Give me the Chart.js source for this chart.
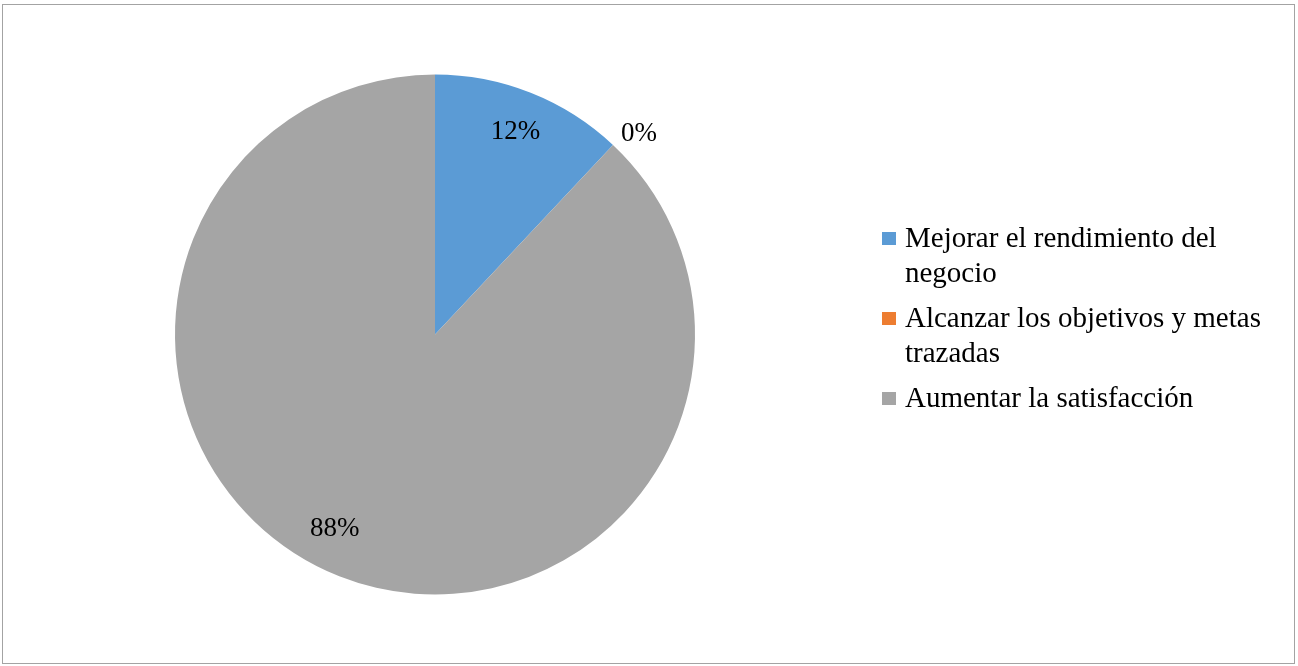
<!DOCTYPE html>
<html>
<head>
<meta charset="utf-8">
<script src="https://cdn.jsdelivr.net/npm/chart.js@4.4.1/dist/chart.umd.min.js"></script>
<style>
  html, body { margin: 0; padding: 0; background: #ffffff; }
  #wrap { position: relative; width: 1298px; height: 666px; overflow: hidden; }
  #frame { position: absolute; left: 2px; top: 4px; width: 1293px; height: 660px;
           border: 1px solid #a3a3a3; box-sizing: border-box; pointer-events: none; }
  canvas#pie { position: absolute; left: 0; top: 0; }
  #legend { position: absolute; left: 882px; top: 220px; width: 408px;
            font-family: "Liberation Serif", "Times New Roman", serif; font-size: 29px;
            line-height: 35px; color: #000; }
  #legend .item { position: relative; padding-left: 23px; margin-bottom: 10px; }
  #legend .sw { position: absolute; left: 0; top: 12px; width: 14px; height: 13px; }
</style>
</head>
<body>
<div id="wrap">
  <canvas id="pie" width="1298" height="666"></canvas>
  <div id="legend"></div>
  <div id="frame"></div>
</div>
<script>
// Survey answers: share of responses per option (percent)
const categories = [
  "Mejorar el rendimiento del negocio",
  "Alcanzar los objetivos y metas trazadas",
  "Aumentar la satisfacción"
];
const shares = [12, 0, 88];
const sliceColors = ["#5B9BD5", "#ED7D31", "#A5A5A5"];

// Percentage labels drawn on / next to each slice
const pctLabels = {
  id: "pctLabels",
  afterDatasetsDraw(chart, args, opts) {
    const ctx = chart.ctx;
    const meta = chart.getDatasetMeta(0);
    ctx.save();
    ctx.font = opts.font;
    ctx.fillStyle = "#000";
    ctx.textAlign = "center";
    ctx.textBaseline = "middle";
    meta.data.forEach((arc, i) => {
      const v = chart.data.datasets[0].data[i];
      const mid = (arc.startAngle + arc.endAngle) / 2 + (opts.angleShift[i] || 0);
      const r = arc.outerRadius * (v === 0 ? opts.outsideFactor : opts.insideFactor);
      const x = arc.x + Math.cos(mid) * r;
      const y = arc.y + Math.sin(mid) * r;
      ctx.fillText(v + "%", x, y);
    });
    ctx.restore();
  }
};

new Chart(document.getElementById("pie"), {
  type: "pie",
  data: {
    labels: categories,
    datasets: [{
      data: shares,
      backgroundColor: sliceColors,
      borderWidth: 0
    }]
  },
  options: {
    responsive: false,
    animation: false,
    layout: { padding: { left: 175, right: 603, top: 74, bottom: 71 } },
    plugins: {
      legend: { display: false },
      tooltip: { enabled: false },
      pctLabels: {
        font: '27px "Liberation Serif", "Times New Roman", serif',
        insideFactor: 0.84,
        outsideFactor: 1.1,
        angleShift: [0, 0.04, 0.1]
      }
    }
  },
  plugins: [pctLabels]
});

// Legend built from the same categories and colours
const legend = document.getElementById("legend");
categories.forEach((name, i) => {
  const item = document.createElement("div");
  item.className = "item";
  const sw = document.createElement("span");
  sw.className = "sw";
  sw.style.background = sliceColors[i];
  item.appendChild(sw);
  item.appendChild(document.createTextNode(name));
  legend.appendChild(item);
});
</script>
</body>
</html>
